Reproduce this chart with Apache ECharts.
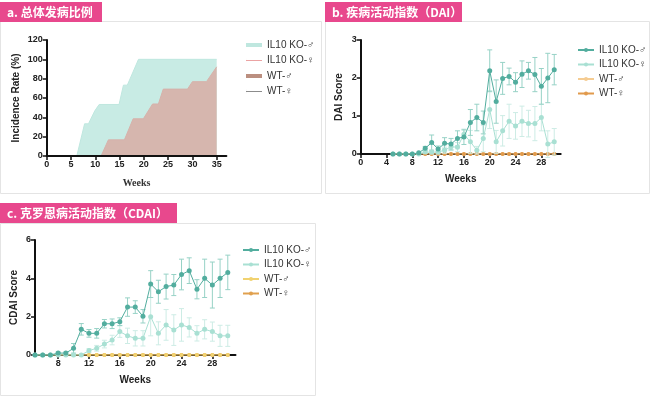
<!DOCTYPE html>
<html>
<head>
<meta charset="utf-8">
<title>IL10 KO 小鼠发病情况</title>
<script src="https://cdn.jsdelivr.net/npm/echarts@6.0.0/dist/echarts.min.js"></script>
<style>
  html, body { margin: 0; padding: 0; background: #fff; }
  #main { width: 650px; height: 397px; }
</style>
</head>
<body>
<div id="main"></div>
<script>
// a. 总体发病比例 (week / %)
var incWeeksM = [0, 6.2, 7.8, 8.6, 9.9, 10.8, 14.9, 15.8, 16.6, 18.9, 35];
var incKoM    = [0, 0, 33.3, 33.3, 46.7, 53.3, 53.3, 73.3, 73.3, 100, 100];
var incWeeksF = [0, 11.2, 12.7, 16.0, 17.8, 19.9, 21.8, 23.0, 24.0, 29.0, 30.0, 32.9, 35];
var incKoF    = [0, 0, 16.7, 16.7, 38.5, 38.5, 53.8, 53.8, 69.2, 69.2, 76.9, 76.9, 92.3];
var incWeeksWT = [0, 35];
var incWtM = [0, 0];
var incWtF = [0, 0];

// b / c: weekly scores, weeks 5..30
var weeks = [5, 6, 7, 8, 9, 10, 11, 12, 13, 14, 15, 16, 17, 18, 19, 20, 21, 22, 23, 24, 25, 26, 27, 28, 29, 30];
var daiKoM    = [0, 0, 0, 0, 0.03, 0.15, 0.30, 0.13, 0.28, 0.26, 0.41, 0.45, 0.83, 0.96, 0.83, 2.19, 1.38, 1.99, 2.04, 1.89, 2.10, 2.19, 2.09, 1.78, 2.00, 2.22];
var daiKoMErr = [0, 0, 0, 0, 0, 0.05, 0.20, 0.08, 0.15, 0.15, 0.20, 0.20, 0.34, 0.35, 0.30, 0.55, 0.57, 0.42, 0.22, 0.25, 0.35, 0.22, 0.45, 0.47, 0.65, 0.40];
var daiKoF    = [0, 0, 0, 0, 0, 0.05, 0.05, 0.05, 0.10, 0.19, 0.18, 0.52, 0.32, 0.10, 0.41, 1.17, 0.32, 0.61, 0.86, 0.74, 0.86, 0.80, 0.80, 0.96, 0.26, 0.32];
var daiKoFErr = [0, 0, 0, 0, 0, 0.03, 0.05, 0.05, 0.08, 0.10, 0.12, 0.10, 0.30, 0.10, 0.35, 0.50, 0.30, 0.40, 0.45, 0.35, 0.40, 0.35, 0.45, 0.35, 0.35, 0.35];
var daiWtM    = [0, 0, 0, 0, 0, 0, 0, 0, 0, 0, 0, 0, 0, 0, 0, 0, 0, 0, 0, 0, 0, 0, 0, 0, 0, 0];
var daiWtF    = [0, 0, 0, 0, 0, 0, 0, 0, 0, 0, 0, 0, 0, 0, 0, 0, 0, 0, 0, 0, 0, 0, 0, 0, 0, 0];

var cdaiKoM    = [0, 0, 0, 0.10, 0.10, 0.35, 1.34, 1.13, 1.13, 1.63, 1.63, 1.74, 2.50, 2.50, 2.02, 3.70, 3.30, 3.57, 3.65, 4.20, 4.40, 3.43, 4.00, 3.65, 4.00, 4.31];
var cdaiKoMErr = [0, 0, 0, 0.05, 0.05, 0.25, 0.30, 0.20, 0.25, 0.22, 0.25, 0.20, 0.48, 0.33, 0.35, 0.70, 0.60, 0.65, 0.55, 0.80, 0.67, 0.50, 1.00, 1.20, 1.00, 0.90];
var cdaiKoF    = [0, 0, 0, 0, 0, 0, 0, 0.23, 0.35, 0.57, 0.78, 1.22, 1.00, 0.87, 0.87, 2.00, 1.13, 1.57, 1.30, 1.57, 1.44, 1.13, 1.34, 1.22, 1.00, 1.00];
var cdaiKoFErr = [0, 0, 0, 0, 0, 0, 0, 0.10, 0.15, 0.20, 0.25, 0.30, 0.40, 0.40, 0.40, 1.00, 0.60, 0.80, 0.80, 0.85, 0.50, 0.40, 0.50, 0.50, 0.55, 0.55];
var cdaiWtM    = [0, 0, 0, 0, 0, 0, 0, 0, 0, 0, 0, 0, 0, 0, 0, 0, 0, 0, 0, 0, 0, 0, 0, 0, 0, 0];
var cdaiWtF    = [0, 0, 0, 0, 0, 0, 0, 0, 0, 0, 0, 0, 0, 0, 0, 0, 0, 0, 0, 0, 0, 0, 0, 0, 0, 0];

var ticksA = [0, 5, 10, 15, 20, 25, 30, 35];
var ticksB = [0, 4, 8, 12, 16, 20, 24, 28];
var ticksC = [8, 12, 16, 20, 24, 28];
var legendNames = ['IL10 KO-♂', 'IL10 KO-♀', 'WT-♂', 'WT-♀'];

var sans = '"Liberation Sans", Arial, sans-serif';
var cjk = '"Noto Sans CJK SC", sans-serif';
var tealDark = '#52ad9e', tealLight = '#a9e0d3';

function pairs(xs, ys) {
    return xs.map(function (x, i) { return [x, ys[i]]; });
}
function errData(vals, errs) {
    var out = [];
    for (var i = 0; i < weeks.length; i++) {
        if (errs[i] > 0) out.push([weeks[i], vals[i] - errs[i], vals[i] + errs[i]]);
    }
    return out;
}
function errSeries(idx, vals, errs, color) {
    return {
        type: 'custom', name: 'err', xAxisIndex: idx, yAxisIndex: idx, z: 2,
        silent: true, data: errData(vals, errs),
        renderItem: function (params, api) {
            var top = api.coord([api.value(0), api.value(2)]);
            var bot = api.coord([api.value(0), api.value(1)]);
            var st = { stroke: color, lineWidth: 1 };
            return { type: 'group', children: [
                { type: 'line', shape: { x1: top[0], y1: top[1], x2: bot[0], y2: bot[1] }, style: st },
                { type: 'line', shape: { x1: top[0] - 2.5, y1: top[1], x2: top[0] + 2.5, y2: top[1] }, style: st },
                { type: 'line', shape: { x1: bot[0] - 2.5, y1: bot[1], x2: bot[0] + 2.5, y2: bot[1] }, style: st }
            ] };
        }
    };
}
function pointSeries(idx, name, vals, color, size, z) {
    return {
        type: 'line', name: name, xAxisIndex: idx, yAxisIndex: idx, z: z,
        data: pairs(weeks, vals), symbol: 'circle', symbolSize: size,
        itemStyle: { color: color }, lineStyle: { color: color, width: 1 }
    };
}
function axisBase(extra) {
    var o = {
        axisLine: { lineStyle: { color: '#111', width: 2 } },
        axisTick: { length: 4, lineStyle: { color: '#111', width: 1.5 } },
        axisLabel: { color: '#222', fontSize: 9, fontWeight: 'bold', fontFamily: sans, margin: 4 },
        splitLine: { show: false },
        nameTextStyle: { color: '#222', fontSize: 10, fontWeight: 'bold', fontFamily: sans },
        nameLocation: 'middle'
    };
    for (var k in extra) o[k] = extra[k];
    return o;
}
function tab(x, y, w, h, label) {
    return { type: 'group', children: [
        { type: 'rect', shape: { x: x, y: y, width: w, height: h }, style: { fill: '#e8488d' } },
        { type: 'text', x: x + 7, y: y + h / 2, style: { text: label, fill: '#fff', fontSize: 12, fontWeight: 'bold', fontFamily: cjk, verticalAlign: 'middle' } }
    ] };
}
function box(x, y, w, h) {
    return { type: 'rect', shape: { x: x, y: y, width: w, height: h }, style: { fill: 'none', stroke: '#e4e4e4', lineWidth: 1 } };
}

var thick = 'path://M0,0H16V4H0Z';
var thin = 'path://M0,1.5H16V2.5H0Z M0,0H0.05V4H0Z';

var myChart = echarts.init(document.getElementById('main'));
var option = {
    animation: false,
    backgroundColor: '#fff',
    graphic: [
        box(0.5, 21.5, 321, 172),
        box(325.5, 21.5, 324, 172),
        box(0.5, 223.5, 315, 172),
        tab(0, 2, 102, 20, 'a. 总体发病比例'),
        tab(325, 2, 137, 20, 'b. 疾病活动指数（DAI）'),
        tab(0, 203, 177, 20, 'c. 克罗恩病活动指数（CDAI）')
    ],
    grid: [
        { left: 46.7, top: 40, width: 179.7, height: 116 },
        { left: 360.7, top: 40, width: 200, height: 114 },
        { left: 35, top: 240, width: 200.5, height: 115 }
    ],
    xAxis: [
        axisBase({ gridIndex: 0, type: 'value', min: 0, max: 37, z: 5, name: 'Weeks', nameGap: 22,
            nameTextStyle: { color: '#333', fontSize: 10, fontWeight: 'bold', fontFamily: '"Liberation Serif", serif' },
            axisLabel: { color: '#222', fontSize: 9, fontWeight: 'bold', fontFamily: sans, margin: 4, customValues: ticksA },
            axisTick: { length: 4, lineStyle: { color: '#111', width: 1.5 }, customValues: ticksA } }),
        axisBase({ gridIndex: 1, type: 'value', min: 0, max: 31, name: 'Weeks', nameGap: 20,
            axisLabel: { color: '#222', fontSize: 9, fontWeight: 'bold', fontFamily: sans, margin: 4, customValues: ticksB },
            axisTick: { length: 4, lineStyle: { color: '#111', width: 1.5 }, customValues: ticksB } }),
        axisBase({ gridIndex: 2, type: 'value', min: 5, max: 31, name: 'Weeks', nameGap: 20,
            axisLabel: { color: '#222', fontSize: 9, fontWeight: 'bold', fontFamily: sans, margin: 4, customValues: ticksC },
            axisTick: { length: 4, lineStyle: { color: '#111', width: 1.5 }, customValues: ticksC } })
    ],
    yAxis: [
        axisBase({ gridIndex: 0, type: 'value', min: 0, max: 120, interval: 20, z: 5, name: 'Incidence Rate (%)', nameGap: 25 }),
        axisBase({ gridIndex: 1, type: 'value', min: 0, max: 3, interval: 1, name: 'DAI Score', nameGap: 16 }),
        axisBase({ gridIndex: 2, type: 'value', min: 0, max: 6, interval: 2, name: 'CDAI Score', nameGap: 16 })
    ],
    legend: [
        { orient: 'vertical', left: 241, top: 35, itemWidth: 16, itemHeight: 4, itemGap: 5.5,
          formatter: function (n) { return n.split('|')[0]; },
          textStyle: { color: '#333', fontSize: 10, fontFamily: sans },
          data: [
            { name: 'IL10 KO-♂|a', icon: thick },
            { name: 'IL10 KO-♀|a', icon: thin },
            { name: 'WT-♂|a', icon: thick },
            { name: 'WT-♀|a', icon: thin }
          ] },
        { orient: 'vertical', left: 572, top: 40, itemWidth: 16, itemHeight: 5, itemGap: 4.5,
          formatter: function (n) { return n.split('|')[0]; },
          textStyle: { color: '#333', fontSize: 10, fontFamily: sans },
          data: legendNames.map(function (n) { return n + '|b'; }) },
        { orient: 'vertical', left: 237, top: 240, itemWidth: 16, itemHeight: 5, itemGap: 4.5,
          formatter: function (n) { return n.split('|')[0]; },
          textStyle: { color: '#333', fontSize: 10, fontFamily: sans },
          data: legendNames.map(function (n) { return n + '|c'; }) }
    ],
    series: [
        // a
        { type: 'line', name: 'IL10 KO-♂|a', xAxisIndex: 0, yAxisIndex: 0, z: 2, showSymbol: false, symbol: 'none',
          data: pairs(incWeeksM, incKoM), itemStyle: { color: '#bfe7df' },
          lineStyle: { color: '#bfe7df', width: 1 }, areaStyle: { color: '#c8ebe4', opacity: 1 } },
        { type: 'line', name: 'IL10 KO-♀|a', xAxisIndex: 0, yAxisIndex: 0, z: 3, showSymbol: false, symbol: 'none',
          data: pairs(incWeeksF, incKoF), itemStyle: { color: '#eba3a3' },
          lineStyle: { color: '#d6b2ab', width: 1 }, areaStyle: { color: '#d6b6ae', opacity: 1 } },
        { type: 'line', name: 'WT-♂|a', xAxisIndex: 0, yAxisIndex: 0, z: 1, symbol: 'none',
          data: pairs(incWeeksWT, incWtM), itemStyle: { color: '#bb8f80' }, lineStyle: { color: '#bb8f80', width: 1.5 } },
        { type: 'line', name: 'WT-♀|a', xAxisIndex: 0, yAxisIndex: 0, z: 1, symbol: 'none',
          data: pairs(incWeeksWT, incWtF), itemStyle: { color: '#8c8c8c' }, lineStyle: { color: '#8c8c8c', width: 1 } },
        // b
        pointSeries(1, 'WT-♂|b', daiWtM, '#f5cc92', 4, 1),
        pointSeries(1, 'WT-♀|b', daiWtF, '#e19a4c', 4, 1),
        errSeries(1, daiKoF, daiKoFErr, '#cdece5'),
        errSeries(1, daiKoM, daiKoMErr, '#97d2c6'),
        pointSeries(1, 'IL10 KO-♀|b', daiKoF, tealLight, 5, 3),
        pointSeries(1, 'IL10 KO-♂|b', daiKoM, tealDark, 5, 4),
        // c
        pointSeries(2, 'WT-♀|c', cdaiWtF, '#e0a04e', 4, 1),
        pointSeries(2, 'WT-♂|c', cdaiWtM, '#f1d270', 4, 1),
        errSeries(2, cdaiKoF, cdaiKoFErr, '#cdece5'),
        errSeries(2, cdaiKoM, cdaiKoMErr, '#97d2c6'),
        pointSeries(2, 'IL10 KO-♀|c', cdaiKoF, tealLight, 5, 3),
        pointSeries(2, 'IL10 KO-♂|c', cdaiKoM, tealDark, 5, 4)
    ]
};
myChart.setOption(option);
</script>
</body>
</html>
